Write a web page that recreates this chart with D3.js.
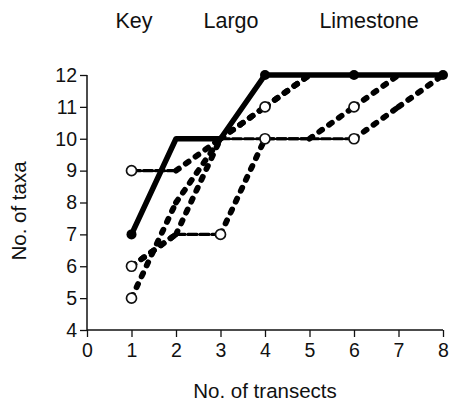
<!DOCTYPE html>
<html>
<head>
<meta charset="utf-8">
<script src="https://cdn.jsdelivr.net/npm/d3@7"></script>
<style>
  html, body { margin: 0; padding: 0; background: #fff; }
  svg { display: block; font-family: "Liberation Sans", Arial, Helvetica, sans-serif; }
</style>
</head>
<body>
<svg id="chart" width="449" height="405"></svg>
<script>
// Cumulative number of taxa against number of transects
const transects = [1, 2, 3, 4, 5, 6, 7, 8];
const xTicks = [0, 1, 2, 3, 4, 5, 6, 7, 8];
const yTicks = [4, 5, 6, 7, 8, 9, 10, 11, 12];
const titleWords = ["Key", "Largo", "Limestone"];

// Observed order (solid line) and re-ordered transect sequences (dashed)
const observed = [7, 10, 10, 12, 12, 12, 12, 12];
const orderA = [9, 9, 10, 11, 12, 12, 12, 12];
const orderB = [6, 7, 7, 10, 10, 10, 11, 12];
const orderC = [5, 8, 10, 10, 10, 11, 12, 12];
const orderD = [6, 7, 10, 11, 12, 12, 12, 12];

// Which points of each sequence carry a marker (index into transects)
const observedMarks = [0, 3, 5, 7];
const orderAMarks = [0, 3];
const orderBMarks = [0, 2, 3, 5];
const orderCMarks = [0, 5];
const orderDMarks = [];

const svg = d3.select("#chart");

const x = d3.scaleLinear().domain([0, 8]).range([87, 443]);
const y = d3.scaleLinear().domain([4, 12]).range([330, 75]);

// Title words spread across the top
const titleX = [134, 231, 369];
svg.selectAll("text.title")
  .data(titleWords)
  .join("text")
  .attr("class", "title")
  .attr("x", (d, i) => titleX[i])
  .attr("y", 28)
  .attr("text-anchor", "middle")
  .attr("font-size", 21.5)
  .attr("fill", "#111")
  .text(d => d);

// Axes
const xAxis = d3.axisBottom(x).tickValues(xTicks).tickSize(7).tickPadding(6).tickFormat(d3.format("d"));
const yAxis = d3.axisLeft(y).tickValues(yTicks).tickSize(7).tickPadding(3).tickFormat(d3.format("d"));

const gx = svg.append("g").attr("transform", "translate(0,330)").call(xAxis);
const gy = svg.append("g").attr("transform", "translate(87,0)").call(yAxis);

[gx, gy].forEach(g => {
  g.select(".domain").attr("stroke", "#111").attr("stroke-width", 1.5);
  g.selectAll(".tick line").attr("stroke", "#111").attr("stroke-width", 1.3);
  g.selectAll(".tick text").attr("fill", "#111").attr("font-size", 19.5)
    .attr("font-family", "'Liberation Sans', Arial, sans-serif");
});
gy.select(".domain").attr("d", "M0,330V75");
gx.select(".domain").attr("d", "M87,0H443");

// Axis titles
svg.append("text")
  .attr("x", 265).attr("y", 398)
  .attr("text-anchor", "middle")
  .attr("font-size", 20.5).attr("fill", "#111")
  .text("No. of transects");

svg.append("text")
  .attr("transform", "translate(26,211) rotate(-90)")
  .attr("text-anchor", "middle")
  .attr("font-size", 20.5).attr("fill", "#111")
  .text("No. of taxa");

const plot = svg.append("g");

// Dashed sequences drawn segment by segment: rising steps bold dashes,
// level steps a finer rule
function drawDashed(values) {
  const segs = d3.pairs(transects.map((t, i) => [t, values[i]]));
  plot.append("g").selectAll("line")
    .data(segs)
    .join("line")
    .attr("x1", d => x(d[0][0])).attr("y1", d => y(d[0][1]))
    .attr("x2", d => x(d[1][0])).attr("y2", d => y(d[1][1]))
    .attr("stroke", "#000")
    .attr("stroke-linecap", "round")
    .attr("stroke-width", d => d[0][1] === d[1][1] ? 3.2 : 5.8)
    .attr("stroke-dasharray", d => d[0][1] === d[1][1] ? "9,3" : "3.5,8.5");
}

[orderA, orderB, orderC, orderD].forEach(drawDashed);

// Observed sequence: heavy solid line
const line = d3.line().x((d, i) => x(transects[i])).y(d => y(d));
plot.append("path")
  .datum(observed)
  .attr("d", line)
  .attr("fill", "none")
  .attr("stroke", "#000")
  .attr("stroke-width", 5.5)
  .attr("stroke-linejoin", "round")
  .attr("stroke-linecap", "round");

// Open circle markers on dashed sequences
function drawOpen(values, marks) {
  plot.append("g").selectAll("circle")
    .data(marks)
    .join("circle")
    .attr("cx", i => x(transects[i]))
    .attr("cy", i => y(values[i]))
    .attr("r", 5)
    .attr("fill", "#fff")
    .attr("stroke", "#111")
    .attr("stroke-width", 1.7);
}
drawOpen(orderA, orderAMarks);
drawOpen(orderB, orderBMarks);
drawOpen(orderC, orderCMarks);
drawOpen(orderD, orderDMarks);

// Filled markers on the observed sequence
plot.append("g").selectAll("circle")
  .data(observedMarks)
  .join("circle")
  .attr("cx", i => x(transects[i]))
  .attr("cy", i => y(observed[i]))
  .attr("r", 5)
  .attr("fill", "#000");
</script>
</body>
</html>
